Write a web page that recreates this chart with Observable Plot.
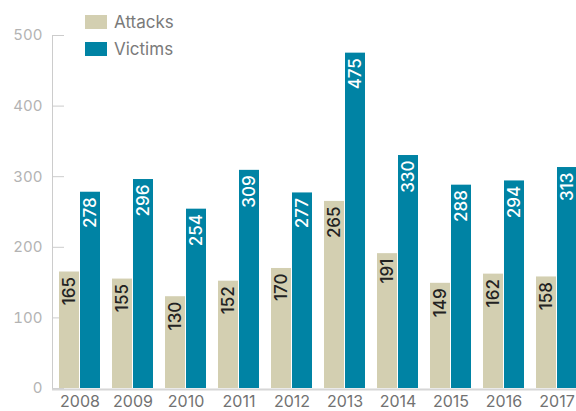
<!DOCTYPE html>
<html>
<head>
<meta charset="utf-8">
<script src="https://cdn.jsdelivr.net/npm/d3@7"></script>
<script src="https://cdn.jsdelivr.net/npm/@observablehq/plot@0.6"></script>
<style>
  body { margin: 0; background: #fff; font-family: Inter, sans-serif; }
  #wrap { position: relative; width: 576px; height: 411px; overflow: hidden; }
  #legend { position: absolute; left: 85px; top: 8px; }
  .item { display: flex; align-items: center; height: 27px; color: #7a7a7a; font-size: 17px; }
  .sw { width: 22px; height: 14px; margin-right: 7px; }
</style>
</head>
<body>
<div id="wrap"><div id="chart"></div><div id="legend"></div></div>
<script>
const years = ["2008", "2009", "2010", "2011", "2012", "2013", "2014", "2015", "2016", "2017"];
const attacks = [165, 155, 130, 152, 170, 265, 191, 149, 162, 158];
const victims = [278, 296, 254, 309, 277, 475, 330, 288, 294, 313];
const yTicks = [0, 100, 200, 300, 400, 500];
const seriesNames = ["Attacks", "Victims"];
const seriesColors = ["#d3cfb1", "#0083a4"];

const rows = years.map((year, i) => ({year, attacks: attacks[i], victims: victims[i]}));

const chart = Plot.plot({
  width: 576,
  height: 411,
  marginLeft: 52,
  marginRight: -8,
  marginTop: 35,
  marginBottom: 23,
  style: {fontFamily: "Inter, sans-serif", background: "#fff"},
  x: {domain: years, paddingInner: 0.23, paddingOuter: 0.115, label: null},
  y: {domain: [0, 500], label: null},
  marks: [
    Plot.frame({anchor: "left", stroke: "#cccccc"}),
    Plot.axisY({ticks: yTicks, tickSize: 12, dx: 12, tickFormat: () => "", color: "#cccccc", label: null}),
    Plot.axisY({ticks: yTicks, tickSize: 0, tickPadding: 10, fontSize: 15, color: "#b3b3b3", label: null}),
    Plot.axisX({tickSize: 0, tickPadding: 7, fontSize: 16, color: "#727272", label: null}),
    Plot.barY(rows, {x: "year", y: "attacks", fill: seriesColors[0], insetRight: 21}),
    Plot.barY(rows, {x: "year", y: "victims", fill: seriesColors[1], insetLeft: 21}),
    Plot.ruleY([0], {stroke: "#d6d6d6", strokeWidth: 2, dy: 1}),
    Plot.text(rows, {x: "year", y: "attacks", text: d => String(d.attacks), rotate: -90, textAnchor: "end", dx: -10.5, dy: 5, fill: "#222", fontSize: 17, fontWeight: 500}),
    Plot.text(rows, {x: "year", y: "victims", text: d => String(d.victims), rotate: -90, textAnchor: "end", dx: 10.5, dy: 5, fill: "#fff", fontSize: 17, fontWeight: 500})
  ]
});
document.getElementById("chart").appendChild(chart);

const legend = document.getElementById("legend");
seriesNames.forEach((name, i) => {
  const item = document.createElement("div");
  item.className = "item";
  const sw = document.createElement("span");
  sw.className = "sw";
  sw.style.background = seriesColors[i];
  const label = document.createElement("span");
  label.textContent = name;
  item.appendChild(sw);
  item.appendChild(label);
  legend.appendChild(item);
});
</script>
</body>
</html>
